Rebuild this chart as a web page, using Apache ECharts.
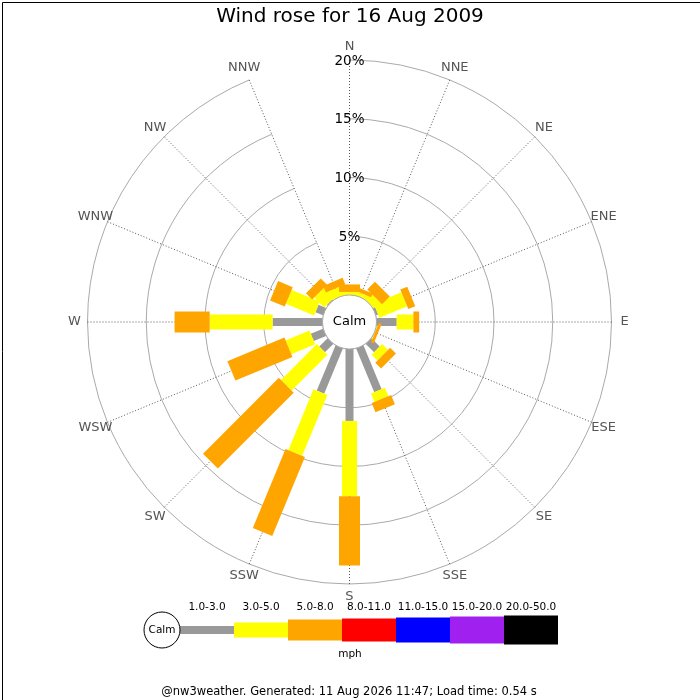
<!DOCTYPE html>
<html>
<head>
<meta charset="utf-8">
<script src="https://cdn.jsdelivr.net/npm/echarts@6/dist/echarts.min.js"></script>
<style>
html,body{margin:0;padding:0;background:#fff;}
#chart{width:700px;height:700px;}
</style>
</head>
<body>
<div id="chart"></div>
<script>
// ---------------- data ----------------
const titleText = 'Wind rose for 16 Aug 2009';
const directions = ['N','NNE','NE','ENE','E','ESE','SE','SSE','S','SSW','SW','WSW','W','WNW','NW','NNW'];
const speedBins = ['1.0-3.0','3.0-5.0','5.0-8.0','8.0-11.0','11.0-15.0','15.0-20.0','20.0-50.0'];
const speedUnit = 'mph';
// percentage of time per direction, by speed bin
const bin1to3   = [0, 0, 0, 0.2, 1.72, 0, 1.0, 4.03, 6.12, 4.16, 1.0, 1.13, 4.25, 0.7, 0.1, 0];
const bin3to5   = [0.26, 0.35, 0.73, 2.55, 1.42, 0.05, 0.7, 0.77, 6.42, 5.61, 4.31, 2.2, 5.35, 2.6, 1.2, 0.8];
const bin5to8   = [0.64, 0.35, 0.93, 0.64, 0.49, 0.25, 0.7, 0.84, 5.89, 7.27, 9.13, 5.25, 2.99, 1.35, 0.75, 0.6];
const ringTicks = [5, 10, 15, 20];
const footerText = '@nw3weather. Generated: 11 Aug 2026 11:47; Load time: 0.54 s';

// ---------------- style ----------------
const FONT = 'DejaVu Sans';
const binColors = ['#999999','#ffff00','#ffa500','#ff0000','#0000ff','#a020f0','#000000'];
const binWidths = [8, 15, 21, 23, 25, 27, 29];
const seriesBins = [bin1to3, bin3to5, bin5to8];

function barSeries(b) {
  const rows = directions.map((d, i) => {
    let start = 0;
    for (let k = 0; k < b; k++) start += seriesBins[k][i];
    return [start + seriesBins[b][i], i, start];
  });
  return {
    type: 'custom',
    name: speedBins[b],
    coordinateSystem: 'polar',
    encode: { radius: [0, 2], angle: 1 },
    data: rows,
    z: 3,
    silent: true,
    renderItem: function (params, api) {
      const end = api.value(0), start = api.value(2);
      if (!(end - start > 0)) return null;
      const idx = params.dataIndex;
      const cs = params.coordSys;
      const pA = api.coord([start, idx]);
      const pB = api.coord([end, idx]);
      let ux = pA[0] - cs.cx, uy = pA[1] - cs.cy;
      const len = Math.sqrt(ux * ux + uy * uy) || 1;
      ux /= len; uy /= len;
      const hw = binWidths[b] / 2;
      const nx = -uy * hw, ny = ux * hw;
      return {
        type: 'polygon',
        shape: { points: [
          [pA[0] + nx, pA[1] + ny], [pB[0] + nx, pB[1] + ny],
          [pB[0] - nx, pB[1] - ny], [pA[0] - nx, pA[1] - ny]
        ] },
        style: { fill: binColors[b] }
      };
    }
  };
}

const series = seriesBins.map((_, b) => barSeries(b));

// direction labels
series.push({
  type: 'custom', coordinateSystem: 'polar', silent: true, z: 5,
  encode: { radius: 0, angle: 1 },
  data: directions.map((d, i) => [ringTicks[ringTicks.length - 1], i]),
  renderItem: function (params, api) {
    const cs = params.coordSys;
    const p = api.coord([api.value(0), params.dataIndex]);
    let ux = p[0] - cs.cx, uy = p[1] - cs.cy;
    const len = Math.sqrt(ux * ux + uy * uy) || 1;
    ux /= len; uy /= len;
    const R = len + 13;
    return {
      type: 'text',
      style: {
        x: cs.cx + ux * R, y: cs.cy + uy * R,
        text: directions[params.dataIndex],
        fill: '#555555', font: '13px "' + FONT + '"',
        align: 'center', verticalAlign: 'middle'
      }
    };
  }
});

// ring labels
series.push({
  type: 'custom', coordinateSystem: 'polar', silent: true, z: 6,
  encode: { radius: 0, angle: 1 },
  data: ringTicks.map(t => [t, 0]),
  renderItem: function (params, api) {
    const p = api.coord([api.value(0), 0]);
    return {
      type: 'text',
      style: {
        x: p[0], y: p[1] + 1,
        text: api.value(0) + '%',
        fill: '#000000', font: '13.5px "' + FONT + '"',
        align: 'center', verticalAlign: 'middle'
      }
    };
  }
});

// calm circle
series.push({
  type: 'custom', coordinateSystem: 'polar', silent: true, z: 7,
  encode: { radius: 0, angle: 1 },
  data: [[0, 0]],
  renderItem: function (params, api) {
    const cs = params.coordSys;
    return {
      type: 'group',
      children: [
        { type: 'circle', shape: { cx: cs.cx, cy: cs.cy, r: cs.r0 },
          style: { fill: '#ffffff', stroke: '#aaaaaa', lineWidth: 1 } },
        { type: 'text', style: { x: cs.cx, y: cs.cy, text: 'Calm', fill: '#000000',
          font: '13px "' + FONT + '"', align: 'center', verticalAlign: 'middle' } }
      ]
    };
  }
});

// legend graphics
const legendX0 = 180, legendY = 630, legendStep = 54;
const graphics = [
  { type: 'rect', left: 0, top: 0, z: 100, silent: true,
    shape: { x: 0.5, y: 0.5, width: 699, height: 699 },
    style: { fill: 'none', stroke: '#000000', lineWidth: 1 } },
  { type: 'circle', z: 20, silent: true, shape: { cx: 162, cy: legendY, r: 18 },
    style: { fill: '#ffffff', stroke: '#000000', lineWidth: 1 } },
  { type: 'text', z: 21, silent: true,
    style: { x: 162, y: legendY, text: 'Calm', fill: '#000', font: '10.5px "' + FONT + '"', align: 'center', verticalAlign: 'middle' } },
  { type: 'text', z: 21, silent: true,
    style: { x: 350, y: 654, text: speedUnit, fill: '#000', font: '10.5px "' + FONT + '"', align: 'center', verticalAlign: 'middle' } },
  { type: 'text', z: 21, silent: true,
    style: { x: 349, y: 692, text: footerText, fill: '#000', font: '11.5px "' + FONT + '"', align: 'center', verticalAlign: 'middle' } }
];
speedBins.forEach((lab, i) => {
  const x = legendX0 + i * legendStep;
  const h = binWidths[i];
  graphics.push({ type: 'rect', z: 19, silent: true,
    shape: { x: x, y: legendY - h / 2, width: legendStep, height: h },
    style: { fill: binColors[i] } });
  graphics.push({ type: 'text', z: 21, silent: true,
    style: { x: x + legendStep / 2, y: 607, text: lab, fill: '#000', font: '10.5px "' + FONT + '"', align: 'center', verticalAlign: 'middle' } });
});

const chart = echarts.init(document.getElementById('chart'), null, { renderer: 'canvas' });
chart.setOption({
  animation: false,
  backgroundColor: '#ffffff',
  textStyle: { fontFamily: FONT },
  title: {
    text: titleText, left: 'center', top: 2,
    textStyle: { fontFamily: FONT, fontSize: 20, fontWeight: 'normal', color: '#000' }
  },
  polar: { center: [349.5, 322], radius: [27, 262] },
  angleAxis: {
    type: 'category',
    data: directions,
    boundaryGap: false,
    startAngle: 90,
    clockwise: true,
    axisLine: { show: false },
    axisTick: { show: false },
    axisLabel: { show: false },
    splitLine: { show: true, interval: 0, lineStyle: { color: '#555555', type: [1, 2], width: 1 } }
  },
  radiusAxis: {
    type: 'value',
    min: 0, max: 20, interval: 5,
    axisLine: { show: false },
    axisTick: { show: false },
    axisLabel: { show: false },
    splitLine: { show: true, lineStyle: { color: '#aaaaaa', width: 1 } }
  },
  graphic: graphics,
  series: series
});
</script>
</body>
</html>
